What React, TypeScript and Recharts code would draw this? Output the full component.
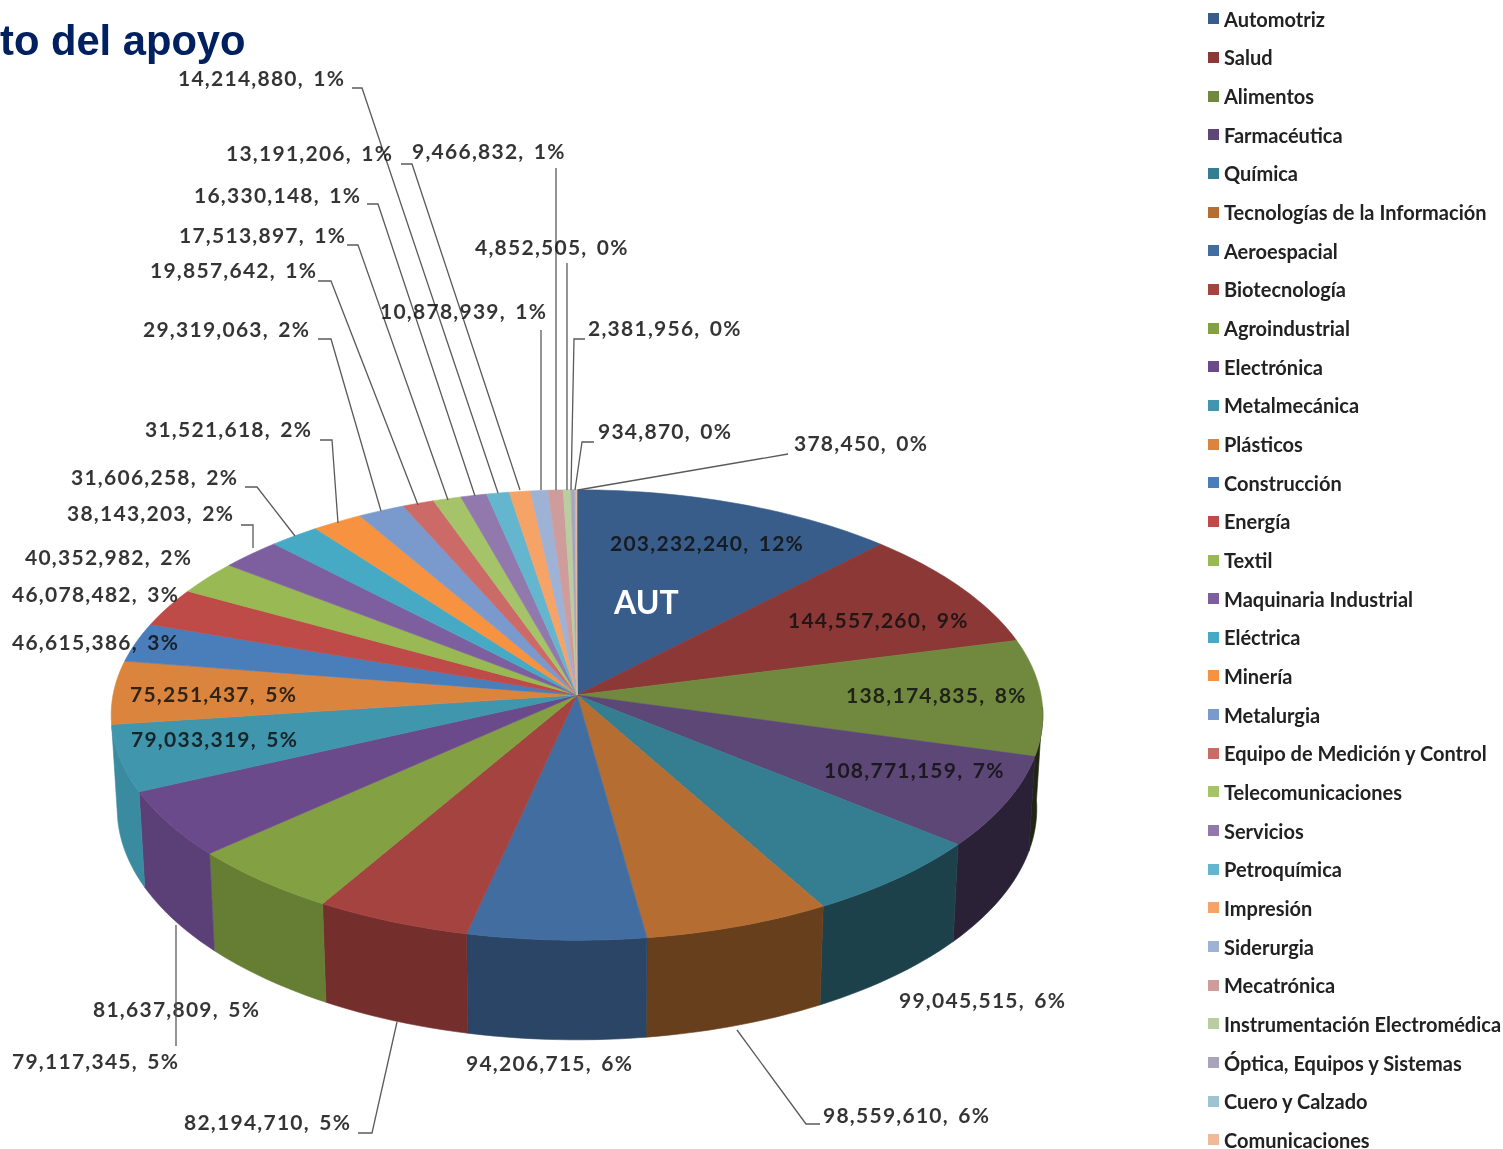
import React from 'react';
import { PieChart, Pie, Legend } from 'recharts';

const sectors = ['Automotriz','Salud','Alimentos','Farmacéutica','Química','Tecnologías de la Información','Aeroespacial','Biotecnología','Agroindustrial','Electrónica','Metalmecánica','Plásticos','Construcción','Energía','Textil','Maquinaria Industrial','Eléctrica','Minería','Metalurgia','Equipo de Medición y Control','Telecomunicaciones','Servicios','Petroquímica','Impresión','Siderurgia','Mecatrónica','Instrumentación Electromédica','Óptica, Equipos y Sistemas','Cuero y Calzado','Comunicaciones'];
const amounts = [203232240,144557260,138174835,108771159,99045515,98559610,94206715,82194710,81637809,79117345,79033319,75251437,46615386,46078482,40352982,38143203,31606258,31521618,29319063,19857642,17513897,16330148,14214880,13191206,10878939,9466832,4852505,2381956,934870,378450];
const colors = ['#385D8A','#8C3836','#71893F','#5C4776','#357D91','#B66D31','#426DA1','#A44340','#83A043','#6B4A8B','#3F96AD','#DB843D','#4A7EBB','#BE4B48','#98B954','#7D5FA0','#46AAC5','#F69240','#7A9ACD','#CC6A67','#A5C46A','#9179AE','#64B5CE','#F5A366','#9EB2D6','#CE9C9B','#B9CDA0','#A9A4BC','#9EC4D4','#F0B998'];
const sliceTag = 'AUT';
const titleText = 'to del apoyo';

// Where each value label and its leader go: label start x, label centre y, leader points.
const labelLayout: [number, number, number[][]][] = [
  [610,544,[]],[788,621,[]],[846,696,[]],[824,771,[]],[899,1001,[]],
  [823,1116,[[820,1124],[806,1124],[737,1030]]],
  [466,1064,[]],
  [184,1123,[[358,1133],[372,1133],[397,1022]]],
  [93,1010,[]],
  [12,1062,[[176,1046],[176,925]]],
  [131,740,[]],[130,695,[]],[12,643,[]],[12,595,[]],[25,558,[]],
  [67,514,[[241,525],[253,525],[253,548]]],
  [71,478,[[245,487],[257,487],[295,536]]],
  [145,430,[[320,440],[332,440],[338,523]]],
  [143,330,[[318,339],[331,339],[381,511]]],
  [150,271,[[318,281],[331,281],[418,505]]],
  [179,236,[[347,245],[358,245],[448,500]]],
  [194,196,[[367,204],[378,204],[475,496]]],
  [178,79,[[352,88],[362,88],[498,493]]],
  [226,154,[[401,164],[412,164],[520,490]]],
  [380,312,[[541,330],[541,490]]],
  [412,152,[[556,168],[556,490]]],
  [475,248,[[567,263],[567,490]]],
  [588,329,[[585,339],[574,339],[571,490]]],
  [598,432,[[594,442],[582,442],[575,490]]],
  [794,444,[[788,454],[578,490]]],
];

const tableData = sectors.map((name, i) => ({ name, value: amounts[i], fill: colors[i] }));

const CX = 577, CY = 695, RAD = 464;
const TILT = 0.4815, PERSP = 0.0889;
const DEPTH = 93, BOTTOM_SCALE = 0.987, BOTTOM_TILT = 0.501;
const LABEL_FONT = 'Lato, "Open Sans", sans-serif';

const project = (deg: number, cx: number, cy: number, r: number, tilt: number): [number, number] => {
  const t = (deg * Math.PI) / 180;
  const u = Math.sin(t), v = Math.cos(t);
  const w = 1 + PERSP * v;
  return [cx + (r * u) / w, cy - (r * tilt * v) / w];
};
const arc = (a: number, b: number, cx: number, cy: number, r: number, tilt: number) => {
  const steps = Math.max(2, Math.ceil(Math.abs(b - a) / 1.5));
  const pts: [number, number][] = [];
  for (let i = 0; i <= steps; i++) pts.push(project(a + ((b - a) * i) / steps, cx, cy, r, tilt));
  return pts;
};
const toD = (pts: [number, number][]) => 'M' + pts.map((p) => `${p[0].toFixed(2)},${p[1].toFixed(2)}`).join('L') + 'Z';

const shadeHex = (hex: string, f: number) => {
  const n = parseInt(hex.slice(1), 16);
  const c = [(n >> 16) & 255, (n >> 8) & 255, n & 255].map((x) => Math.round(x * f));
  return `rgb(${c[0]},${c[1]},${c[2]})`;
};

const TopFace = (p: any) => {
  const a = 90 - p.startAngle, b = 90 - p.endAngle;
  const d = toD([[p.cx, p.cy], ...arc(a, b, p.cx, p.cy, p.outerRadius, TILT)]);
  return <path d={d} fill={p.fill} stroke={p.fill} strokeWidth={0.6} />;
};

const SideWall = (p: any) => {
  const a = Math.max(90 - p.startAngle, 93), b = Math.min(90 - p.endAngle, 262);
  if (b <= a) return <g />;
  const top = arc(a, b, p.cx, p.cy, p.outerRadius, TILT);
  const bot = arc(b, a, p.cx, p.cy + DEPTH, p.outerRadius * BOTTOM_SCALE, BOTTOM_TILT);
  const mid = (a + b) / 2;
  const f = mid < 106 ? 0.28 : mid < 180 ? 0.42 + ((mid - 100) / 80) * 0.2 : 0.62 + ((mid - 180) / 80) * 0.33;
  const c = shadeHex(p.fill, f);
  return <path d={toD([...top, ...bot])} fill={c} stroke={c} strokeWidth={0.6} />;
};

const ValueLabel = (p: any) => {
  const [x, y, leader] = labelLayout[p.index];
  const text = `${Number(p.value).toLocaleString('en-US')}, ${Math.round(p.percent * 100)}%`;
  return (
    <g>
      {leader.length > 0 && (
        <polyline points={leader.map((q) => q.join(',')).join(' ')} fill="none" stroke="#5a5a5a" strokeWidth={1.3} />
      )}
      <text x={x} y={y} dy="0.35em" fontFamily={LABEL_FONT} fontWeight={700} fontSize={21} letterSpacing={1.25} wordSpacing={3} fill="#111" fillOpacity={0.85}>
        {text}
      </text>
      {p.index === 0 && (
        <text x={614} y={603} dy="0.35em" fontFamily={LABEL_FONT} fontWeight={700} fontSize={32} fill="#fff">{sliceTag}</text>
      )}
    </g>
  );
};

const LegendList = ({ payload }: any) => {
  const seen = new Set<string>();
  const items = (payload || []).filter((e: any) => (seen.has(e.value) ? false : (seen.add(e.value), true)));
  return (
    <div style={{ width: 300 }}>
      {items.map((e: any) => (
        <div key={e.value} style={{ height: 38.66, display: 'flex', alignItems: 'center', fontFamily: LABEL_FONT, fontWeight: 700, fontSize: 20, lineHeight: '18px', color: '#222', whiteSpace: 'nowrap' }}>
          <span style={{ width: 11, height: 11, background: e.color, marginRight: 5, flex: 'none' }} />
          {e.value}
        </div>
      ))}
    </div>
  );
};

export default function App() {
  return (
    <div style={{ position: 'absolute', left: 0, top: 0, width: 1503, height: 1149, overflow: 'hidden', background: '#fff', filter: 'blur(0.5px)' }}>
      <PieChart width={1503} height={1149} margin={{ top: 0, right: 0, bottom: 0, left: 0 }}>
        <Legend content={<LegendList />} itemSorter={null} layout="vertical" wrapperStyle={{ position: 'absolute', left: 1208, top: -0.5, width: 300 }} />
        <Pie data={tableData} dataKey="value" nameKey="name" cx={CX} cy={CY} outerRadius={RAD} startAngle={90} endAngle={-270} stroke="none" isAnimationActive={false} shape={SideWall} legendType="none" />
        <Pie data={tableData} dataKey="value" nameKey="name" cx={CX} cy={CY} outerRadius={RAD} startAngle={90} endAngle={-270} stroke="none" isAnimationActive={false} shape={TopFace} labelLine={false} label={ValueLabel} />
        <text x={0} y={55} fontFamily='"Liberation Sans", Arial, sans-serif' fontWeight={700} fontSize={41.7} fill="#002060">{titleText}</text>
      </PieChart>
    </div>
  );
}
